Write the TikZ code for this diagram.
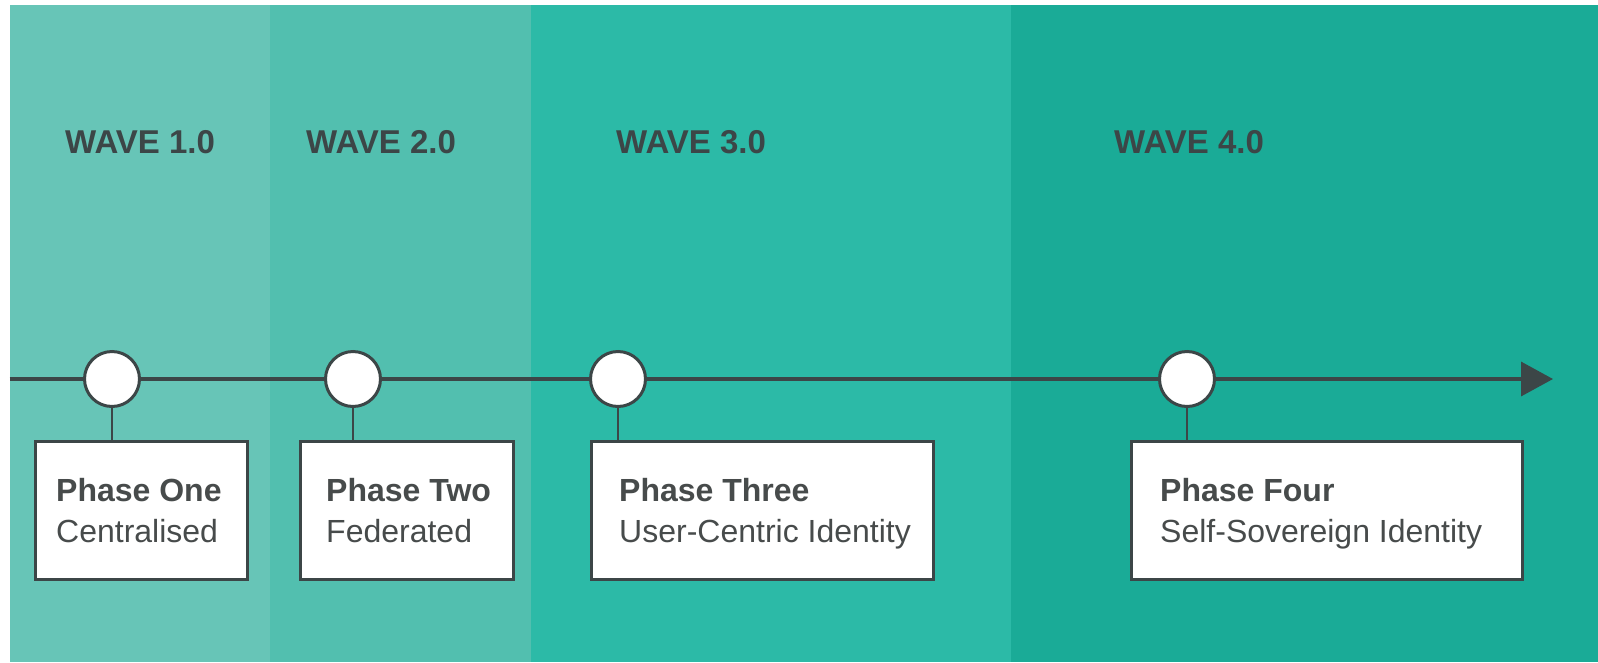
\documentclass[tikz,border=0pt]{standalone}
\usepackage{fontspec}
\setmainfont{Liberation Sans}
\usetikzlibrary{arrows.meta,shadows}

\definecolor{bandA}{HTML}{67C5B7}
\definecolor{bandB}{HTML}{52BFAF}
\definecolor{bandC}{HTML}{2CBAA7}
\definecolor{bandD}{HTML}{1AAB97}
\definecolor{ink}{HTML}{3C4647}
\definecolor{txt}{HTML}{474B4B}

\tikzset{
  wavelabel/.style={anchor=base west, inner sep=0pt, text=ink,
    font=\fontsize{33}{39}\selectfont\bfseries},
  milestone/.style={circle, draw=ink, line width=3pt, fill=white,
    minimum size=55pt, inner sep=0pt},
  phasebox/.style={rectangle, draw=ink, line width=2.5pt, fill=white,
    anchor=north west, inner sep=0pt, minimum height=138pt,
    drop shadow={shadow xshift=1pt, shadow yshift=-2pt, opacity=0.25}},
  phasetitle/.style={anchor=base west, inner sep=0pt, text=txt,
    font=\fontsize{32}{38}\selectfont\bfseries},
  phasesub/.style={anchor=base west, inner sep=0pt, text=txt,
    font=\fontsize{32}{38}\selectfont},
  stem/.style={draw=ink, line width=2.5pt},
  axis/.style={draw=ink, line width=3.5pt, -{Triangle[length=32pt,width=34pt]}}
}

\begin{document}
\begin{tikzpicture}[x=1pt, y=-1pt]
  \useasboundingbox (0,0) rectangle (1598,662);

  % background bands
  \fill[bandA] (9.5,4.5) rectangle (270,662);
  \fill[bandB] (270,4.5) rectangle (531,662);
  \fill[bandC] (531,4.5) rectangle (1011,662);
  \fill[bandD] (1011,4.5) rectangle (1598,662);

  % wave headings
  \node[wavelabel] (w1) at (65,153) {WAVE 1.0};
  \node[wavelabel] (w2) at (306,153) {WAVE 2.0};
  \node[wavelabel] (w3) at (616,153) {WAVE 3.0};
  \node[wavelabel] (w4) at (1114,153) {WAVE 4.0};

  % timeline
  \coordinate (ts) at (9.5,379);
  \coordinate (te) at (1553,379);
  \draw[axis] (ts) -- (te);

  % phase boxes
  \node[phasebox, minimum width=212pt] (b1) at (34,440) {};
  \node[phasebox, minimum width=213pt] (b2) at (299,440) {};
  \node[phasebox, minimum width=342pt] (b3) at (590,440) {};
  \node[phasebox, minimum width=391pt] (b4) at (1130,440) {};

  % milestones
  \node[milestone] (c1) at (112,379) {};
  \node[milestone] (c2) at (353,379) {};
  \node[milestone] (c3) at (618,379) {};
  \node[milestone] (c4) at (1187,379) {};

  % stems joining milestones to boxes
  \foreach \i in {1,2,3,4} {
    \draw[stem] (c\i.south) -- (c\i.south |- b\i.north);
  }

  % box texts
  \node[phasetitle] (t1) at (56,501) {Phase One};
  \node[phasesub]   (s1) at (56,542) {Centralised};
  \node[phasetitle] (t2) at (326,501) {Phase Two};
  \node[phasesub]   (s2) at (326,542) {Federated};
  \node[phasetitle] (t3) at (619,501) {Phase Three};
  \node[phasesub]   (s3) at (619,542) {User-Centric Identity};
  \node[phasetitle] (t4) at (1160,501) {Phase Four};
  \node[phasesub]   (s4) at (1160,542) {Self-Sovereign Identity};
\end{tikzpicture}
\end{document}
